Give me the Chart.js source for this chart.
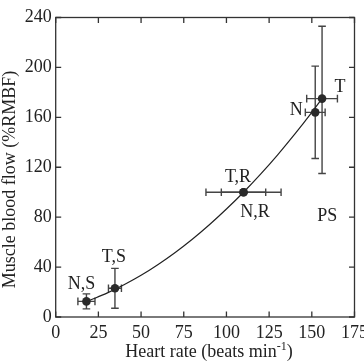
<!DOCTYPE html>
<html><head><meta charset="utf-8">
<script src="https://cdn.jsdelivr.net/npm/chart.js@4/dist/chart.umd.min.js"></script>
<style>html,body{margin:0;padding:0;background:#fff}canvas{display:block}</style>
</head><body>
<canvas id="c" width="364" height="364" style="width:364px;height:364px"></canvas>
<script>
const xTicks = [0, 25, 50, 75, 100, 125, 150, 175];
const yTicks = [0, 40, 80, 120, 160, 200, 240];
const groupLabels = ['N,S', 'T,S', 'T,R', 'N,R', 'N', 'T'];
const heartRate = [18, 34.7, 110, 110, 152, 156];
const bloodFlow = [12.5, 23, 100, 100, 164, 175];
const heartRateErr = [5, 3.8, 13, 22, 5.8, 9];
const bloodFlowErrUp = [6, 16, 0, 0, 37, 58];
const bloodFlowErrDown = [6, 16, 0, 0, 37, 60];
const fitHeartRate = [20, 30, 40, 50, 60, 70, 80, 90, 100, 110, 120, 130, 140, 150, 156];
const fitBloodFlow = [13.4, 19.1, 25.8, 33.4, 42.1, 51.7, 62.3, 73.9, 86.5, 100, 114.5, 130, 146.5, 164, 175];
const panelLabel = 'PS';

const FONT = '"Liberation Serif", "Times New Roman", serif';
const INK = '#2a2a2a';

// label offsets (px) relative to each point: [dx, baseline dy]
const labelOffsets = [[-5, -12.5], [-1, -26], [-5.5, -10], [11.5, 25], [-19, 2.7], [18, -6.6]];

const decor = {
  id: 'decor',
  beforeDatasetsDraw(chart) {
    const ctx = chart.ctx, xs = chart.scales.x, ys = chart.scales.y;
    ctx.save();
    ctx.strokeStyle = '#444';
    ctx.lineWidth = 1.4;
    const cap = 3.8;
    for (let i = 0; i < heartRate.length; i++) {
      const px = xs.getPixelForValue(heartRate[i]);
      const py = ys.getPixelForValue(bloodFlow[i]);
      if (heartRateErr[i] > 0) {
        const x1 = xs.getPixelForValue(heartRate[i] - heartRateErr[i]);
        const x2 = xs.getPixelForValue(heartRate[i] + heartRateErr[i]);
        ctx.beginPath();
        ctx.moveTo(x1, py); ctx.lineTo(x2, py);
        ctx.moveTo(x1, py - cap); ctx.lineTo(x1, py + cap);
        ctx.moveTo(x2, py - cap); ctx.lineTo(x2, py + cap);
        ctx.stroke();
      }
      if (bloodFlowErrUp[i] > 0 || bloodFlowErrDown[i] > 0) {
        const y1 = ys.getPixelForValue(bloodFlow[i] + bloodFlowErrUp[i]);
        const y2 = ys.getPixelForValue(bloodFlow[i] - bloodFlowErrDown[i]);
        ctx.beginPath();
        ctx.moveTo(px, y1); ctx.lineTo(px, y2);
        ctx.moveTo(px - cap, y1); ctx.lineTo(px + cap, y1);
        ctx.moveTo(px - cap, y2); ctx.lineTo(px + cap, y2);
        ctx.stroke();
      }
    }
    ctx.restore();
  },
  afterDraw(chart) {
    const ctx = chart.ctx, xs = chart.scales.x, ys = chart.scales.y, a = chart.chartArea;
    ctx.save();
    // frame
    ctx.strokeStyle = '#333';
    ctx.lineWidth = 1.3;
    ctx.strokeRect(a.left, a.top, a.right - a.left, a.bottom - a.top);
    const tl = 5.5;
    ctx.beginPath();
    xTicks.forEach(v => {
      const x = xs.getPixelForValue(v);
      ctx.moveTo(x, a.bottom); ctx.lineTo(x, a.bottom - tl);
      ctx.moveTo(x, a.top); ctx.lineTo(x, a.top + tl);
    });
    yTicks.forEach(v => {
      const y = ys.getPixelForValue(v);
      ctx.moveTo(a.left, y); ctx.lineTo(a.left + tl, y);
      ctx.moveTo(a.right, y); ctx.lineTo(a.right - tl, y);
    });
    ctx.stroke();
    // point labels
    ctx.fillStyle = '#222';
    ctx.font = '18px ' + FONT;
    ctx.textAlign = 'center';
    ctx.textBaseline = 'alphabetic';
    groupLabels.forEach((t, i) => {
      const px = xs.getPixelForValue(heartRate[i]);
      const py = ys.getPixelForValue(bloodFlow[i]);
      ctx.fillText(t, px + labelOffsets[i][0], py + labelOffsets[i][1]);
    });
    ctx.fillText(panelLabel, xs.getPixelForValue(159), ys.getPixelForValue(77.3));
    // axis titles
    const main = 'Heart rate (beats min';
    const sup = '-1';
    const close = ')';
    ctx.font = '18px ' + FONT;
    const wMain = ctx.measureText(main).width;
    const wClose = ctx.measureText(close).width;
    ctx.font = '12px ' + FONT;
    const wSup = ctx.measureText(sup).width;
    const total = wMain + wSup + wClose;
    const sx = 209 - total / 2;
    const by = 357;
    ctx.textAlign = 'left';
    ctx.font = '18px ' + FONT;
    ctx.fillText(main, sx, by);
    ctx.font = '12px ' + FONT;
    ctx.fillText(sup, sx + wMain, by - 7);
    ctx.font = '18px ' + FONT;
    ctx.fillText(close, sx + wMain + wSup, by);
    ctx.translate(15, 179.5);
    ctx.rotate(-Math.PI / 2);
    ctx.textAlign = 'center';
    ctx.fillText('Muscle blood flow (%RMBF)', 0, 0);
    ctx.restore();
  }
};

new Chart(document.getElementById('c'), {
  type: 'scatter',
  data: {
    datasets: [
      {
        data: fitHeartRate.map((x, i) => ({x, y: fitBloodFlow[i]})),
        showLine: true,
        borderColor: '#222',
        borderWidth: 1.2,
        pointRadius: 0,
        cubicInterpolationMode: 'monotone',
        order: 2
      },
      {
        data: heartRate.map((x, i) => ({x, y: bloodFlow[i]})),
        pointRadius: 4.3,
        pointBackgroundColor: INK,
        pointBorderColor: INK,
        pointBorderWidth: 0,
        order: 1
      }
    ]
  },
  options: {
    responsive: false,
    animation: false,
    devicePixelRatio: 1,
    layout: {padding: {left: 0, right: 9.5, top: 17.5, bottom: 0}},
    plugins: {legend: {display: false}, tooltip: {enabled: false}},
    scales: {
      x: {
        type: 'linear', min: 0, max: 175,
        afterBuildTicks: s => { s.ticks = xTicks.map(v => ({value: v})); },
        afterFit: s => { s.height = 47; s.paddingLeft = 0; s.paddingRight = 0; },
        grid: {display: false, drawTicks: false},
        border: {display: false},
        ticks: {font: {family: FONT, size: 18}, color: '#222', padding: 5, maxRotation: 0, autoSkip: false}
      },
      y: {
        type: 'linear', min: 0, max: 240,
        afterBuildTicks: s => { s.ticks = yTicks.map(v => ({value: v})); },
        afterFit: s => { s.width = 55.7; s.paddingTop = 0; s.paddingBottom = 0; },
        grid: {display: false, drawTicks: false},
        border: {display: false},
        ticks: {font: {family: FONT, size: 18}, color: '#222', padding: 4, autoSkip: false}
      }
    }
  },
  plugins: [decor]
});
</script>
</body></html>
